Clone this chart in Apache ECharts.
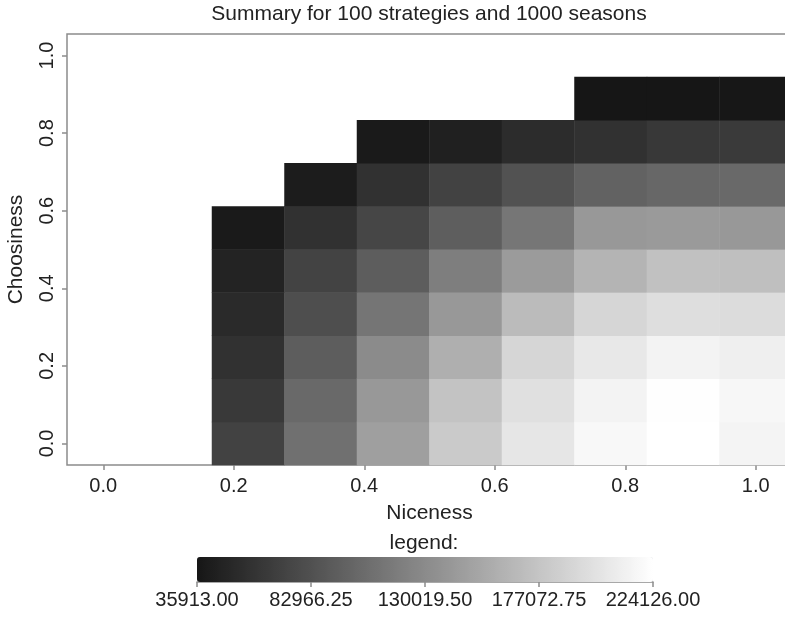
<!DOCTYPE html>
<html><head><meta charset="utf-8">
<script src="https://cdn.jsdelivr.net/npm/echarts@6/dist/echarts.min.js"></script>
<style>html,body{margin:0;padding:0;background:#fff}#c{width:785px;height:618px}</style>
</head><body><div id="c"></div>
<script>
// Grid values (cell centres) for both axes
const niceness   = ['0.000','0.111','0.222','0.333','0.444','0.556','0.667','0.778','0.889','1.000'];
const choosiness = ['0.000','0.111','0.222','0.333','0.444','0.556','0.667','0.778','0.889','1.000'];
const xTicks = [0.0, 0.2, 0.4, 0.6, 0.8, 1.0];
const yTicks = [0.0, 0.2, 0.4, 0.6, 0.8, 1.0];
const legendTicks = [35913.00, 82966.25, 130019.50, 177072.75, 224126.00];

// Values per niceness column, listed from choosiness 0 upward (missing cells are empty)
const col_0222 = [71763, 64430, 57912, 52208, 46505, 39172];
const col_0333 = [108428, 102724, 92947, 81540, 72578, 57912, 40802];
const col_0444 = [146722, 141018, 130426, 112501, 92947, 75022, 57912, 39172];
const col_0556 = [180942, 176053, 159758, 141018, 119834, 93762, 71763, 44061];
const col_0667 = [203756, 198867, 190719, 169535, 143463, 113316, 83984, 53838];
const col_0778 = [218421, 214348, 205385, 190719, 163832, 141018, 97021, 57912, 35913];
const col_0889 = [224126, 223310, 214348, 197237, 174424, 142648, 101095, 63615, 35913];
const col_1000 = [215162, 217607, 211089, 195608, 172794, 141018, 102724, 65245, 36728];

const columns = [
  ['0.222', col_0222], ['0.333', col_0333], ['0.444', col_0444], ['0.556', col_0556],
  ['0.667', col_0667], ['0.778', col_0778], ['0.889', col_0889], ['1.000', col_1000]
];
const cells = [];
columns.forEach(([x, vals]) => {
  vals.forEach((v, i) => cells.push([niceness.indexOf(x), i, v]));
});

const FONT = 'Liberation Sans, Arial, Helvetica, sans-serif';
const TXT = '#222';
const AX = '#8c8c8c';

const chart = echarts.init(document.getElementById('c'), null, {renderer: 'canvas'});
chart.setOption({
  animation: false,
  backgroundColor: '#fff',
  textStyle: {fontFamily: FONT},
  graphic: [
    {type: 'text', x: 429, y: 14, style: {text: 'Summary for 100 strategies and 1000 seasons', textAlign: 'center', textVerticalAlign: 'middle', font: '21px ' + FONT, fill: TXT}},
    {type: 'text', x: 424, y: 543, style: {text: 'legend:', textAlign: 'center', textVerticalAlign: 'middle', font: '21px ' + FONT, fill: TXT}}
  ],
  grid: [
    {left: 67, top: 34, width: 725, height: 431, show: true, borderColor: AX, borderWidth: 1.5, backgroundColor: '#fff', outerBoundsMode: 'none', containLabel: false},
    {left: 197, top: 557, width: 456, height: 25, show: false, outerBoundsMode: 'none', containLabel: false}
  ],
  xAxis: [
    {type: 'category', gridIndex: 0, data: niceness, show: false},
    {type: 'value', gridIndex: 0, min: -1/18, max: 19/18, position: 'bottom',
      axisLine: {show: false, onZero: false}, splitLine: {show: false},
      axisTick: {show: true, customValues: xTicks, length: 5, lineStyle: {color: AX, width: 1.5}},
      axisLabel: {customValues: xTicks, formatter: v => v.toFixed(1), fontSize: 20, color: TXT, margin: 11, fontFamily: FONT},
      name: 'Niceness', nameLocation: 'middle', nameGap: 38, nameTextStyle: {fontSize: 21, color: TXT, fontFamily: FONT}},
    {type: 'value', gridIndex: 1, min: legendTicks[0], max: legendTicks[legendTicks.length - 1], position: 'bottom',
      axisLine: {show: true, onZero: false, lineStyle: {color: AX, width: 1.5}}, splitLine: {show: false},
      axisTick: {show: true, customValues: legendTicks, length: 5, lineStyle: {color: AX, width: 1.5}},
      axisLabel: {customValues: legendTicks, formatter: v => v.toFixed(2), fontSize: 20, color: TXT, margin: 8, fontFamily: FONT}}
  ],
  yAxis: [
    {type: 'category', gridIndex: 0, data: choosiness, show: false},
    {type: 'value', gridIndex: 0, min: -1/18, max: 19/18, position: 'left',
      axisLine: {show: false, onZero: false}, splitLine: {show: false},
      axisTick: {show: true, customValues: yTicks, length: 5, lineStyle: {color: AX, width: 1.5}},
      axisLabel: {customValues: yTicks, formatter: v => v.toFixed(1), rotate: 90, fontSize: 20, color: TXT, margin: 10, fontFamily: FONT},
      name: 'Choosiness', nameLocation: 'middle', nameGap: 40, nameRotate: 90, nameTextStyle: {fontSize: 21, color: TXT, fontFamily: FONT}},
    {type: 'value', gridIndex: 1, show: false, min: 0, max: 1}
  ],
  visualMap: {
    type: 'continuous', min: legendTicks[0], max: legendTicks[legendTicks.length - 1],
    seriesIndex: 0, dimension: 2, show: true, orient: 'horizontal',
    left: 197, top: 557, itemWidth: 25, itemHeight: 456, padding: 0,
    text: null, calculable: false, hoverLink: false,
    inRange: {color: ['#161616', '#ffffff']}
  },
  series: [{
    type: 'heatmap', xAxisIndex: 0, yAxisIndex: 0, data: cells,
    itemStyle: {borderWidth: 0}, emphasis: {disabled: true}
  }]
});
</script></body></html>
